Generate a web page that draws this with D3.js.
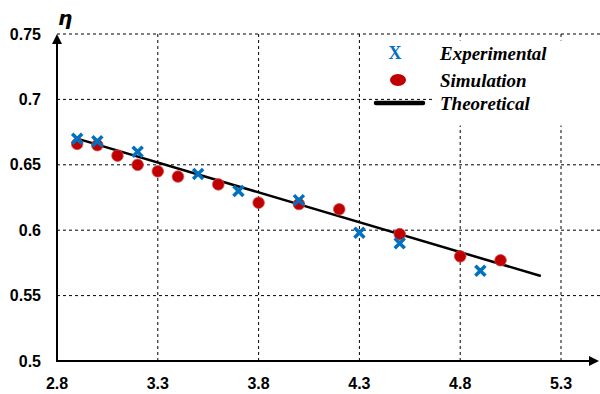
<!DOCTYPE html>
<html lang="en">
<head>
<meta charset="utf-8" />
<script src="https://d3js.org/d3.v7.min.js"></script>
<style>
  body { margin: 0; background: #fff; }
  svg { display: block; }
  .tick-label { font-family: "Liberation Sans", Arial, sans-serif; font-weight: bold; font-size: 16px; fill: #000; }
  .legend-text { font-family: "Liberation Serif", "Times New Roman", serif; font-weight: bold; font-style: italic; font-size: 19px; fill: #000; }
</style>
</head>
<body>
<script>
  // data
  const xTicks = [2.8, 3.3, 3.8, 4.3, 4.8, 5.3];
  const yTicks = [0.5, 0.55, 0.6, 0.65, 0.7, 0.75];

  const expX = [2.9, 3.0, 3.2, 3.5, 3.7, 4.0, 4.3, 4.5, 4.9];
  const expY = [0.670, 0.668, 0.660, 0.643, 0.630, 0.623, 0.598, 0.590, 0.569];

  const simX = [2.9, 3.0, 3.1, 3.2, 3.3, 3.4, 3.6, 3.8, 4.0, 4.2, 4.5, 4.8, 5.0];
  const simY = [0.666, 0.665, 0.657, 0.650, 0.645, 0.641, 0.635, 0.621, 0.620, 0.616, 0.597, 0.580, 0.577];

  const theoX = [2.9, 5.2];
  const theoY = [0.670, 0.565];

  const legendLabels = ["Experimental", "Simulation", "Theoretical"];

  const width = 600, height = 394;
  const blue = "#0070C0", red = "#C00000";

  const svg = d3.select("body").append("svg")
      .attr("width", width)
      .attr("height", height);

  const x = d3.scaleLinear().domain([2.8, 5.3]).range([57, 561]);
  const y = d3.scaleLinear().domain([0.5, 0.75]).range([361, 34]);

  // grid lines
  svg.append("g").selectAll("line")
      .data(xTicks.slice(1))
      .join("line")
      .attr("x1", d => x(d)).attr("x2", d => x(d))
      .attr("y1", y(0.75)).attr("y2", y(0.5))
      .attr("stroke", "#000").attr("stroke-width", 1)
      .attr("stroke-dasharray", "3,3");

  svg.append("g").selectAll("line")
      .data(yTicks.slice(1))
      .join("line")
      .attr("x1", x(2.8)).attr("x2", width)
      .attr("y1", d => y(d)).attr("y2", d => y(d))
      .attr("stroke", "#000").attr("stroke-width", 1)
      .attr("stroke-dasharray", "3,3");

  // white legend panel hides part of the grid
  svg.append("rect")
      .attr("x", x(4.67)).attr("y", y(0.745))
      .attr("width", width - x(4.67)).attr("height", y(0.68) - y(0.745))
      .attr("fill", "#fff");

  // tick labels
  svg.append("g").selectAll("text")
      .data(yTicks)
      .join("text")
      .attr("class", "tick-label")
      .attr("x", 41)
      .attr("y", d => y(d))
      .attr("dy", "0.35em")
      .attr("text-anchor", "end")
      .text(d => d);

  svg.append("g").selectAll("text")
      .data(xTicks)
      .join("text")
      .attr("class", "tick-label")
      .attr("x", d => x(d))
      .attr("y", 389)
      .attr("text-anchor", "middle")
      .text(d => d);

  // axes with arrow heads
  svg.append("line")
      .attr("x1", x(2.8)).attr("x2", x(2.8))
      .attr("y1", y(0.5) + 1).attr("y2", y(0.75) + 8)
      .attr("stroke", "#000").attr("stroke-width", 2);
  svg.append("path")
      .attr("d", `M${x(2.8)},${y(0.75)} l-5,10 l10,0 z`)
      .attr("fill", "#000");

  svg.append("line")
      .attr("x1", x(2.8) - 1).attr("x2", width - 8)
      .attr("y1", y(0.5)).attr("y2", y(0.5))
      .attr("stroke", "#000").attr("stroke-width", 2);
  svg.append("path")
      .attr("d", `M${width - 1},${y(0.5)} l-10,-5 l0,10 z`)
      .attr("fill", "#000");

  svg.append("text")
      .attr("x", x(2.8) + 1)
      .attr("y", 25)
      .attr("font-family", "DejaVu Sans, sans-serif")
      .attr("font-weight", "bold")
      .attr("font-style", "italic")
      .attr("font-size", 20)
      .text("η");

  // theoretical line
  const line = d3.line().x(d => x(d[0])).y(d => y(d[1]));
  svg.append("path")
      .datum(d3.zip(theoX, theoY))
      .attr("d", line)
      .attr("fill", "none")
      .attr("stroke", "#000")
      .attr("stroke-width", 2.5);

  // simulation points
  svg.append("g").selectAll("circle")
      .data(d3.zip(simX, simY))
      .join("circle")
      .attr("cx", d => x(d[0]))
      .attr("cy", d => y(d[1]))
      .attr("r", 5.8)
      .attr("fill", red)
      .attr("stroke", "#d65050")
      .attr("stroke-width", 0.8);

  // experimental points (crosses)
  const cross = (cx, cy, s) => `M${cx - s},${cy - s}L${cx + s},${cy + s}M${cx - s},${cy + s}L${cx + s},${cy - s}`;
  svg.append("g").selectAll("path")
      .data(d3.zip(expX, expY))
      .join("path")
      .attr("d", d => cross(x(d[0]), y(d[1]), 5))
      .attr("stroke", blue)
      .attr("stroke-width", 3.5)
      .attr("fill", "none");

  // legend
  const lx = 395;
  const legendY = [53, 80, 103];
  svg.append("text")
      .attr("x", lx).attr("y", legendY[0])
      .attr("dy", "0.35em")
      .attr("text-anchor", "middle")
      .attr("font-family", "Liberation Serif, serif")
      .attr("font-weight", "bold")
      .attr("font-size", 18)
      .attr("fill", blue)
      .text("X");
  svg.append("ellipse")
      .attr("cx", lx + 3).attr("cy", legendY[1])
      .attr("rx", 8).attr("ry", 6)
      .attr("fill", red);
  svg.append("line")
      .attr("x1", lx - 19).attr("x2", lx + 28)
      .attr("y1", legendY[2]).attr("y2", legendY[2])
      .attr("stroke", "#000").attr("stroke-width", 4.5)
      .attr("stroke-linecap", "round");

  svg.append("g").selectAll("text")
      .data(legendLabels)
      .join("text")
      .attr("class", "legend-text")
      .attr("x", 440)
      .attr("y", (d, i) => legendY[i])
      .attr("dy", "0.35em")
      .text(d => d);
</script>
</body>
</html>
